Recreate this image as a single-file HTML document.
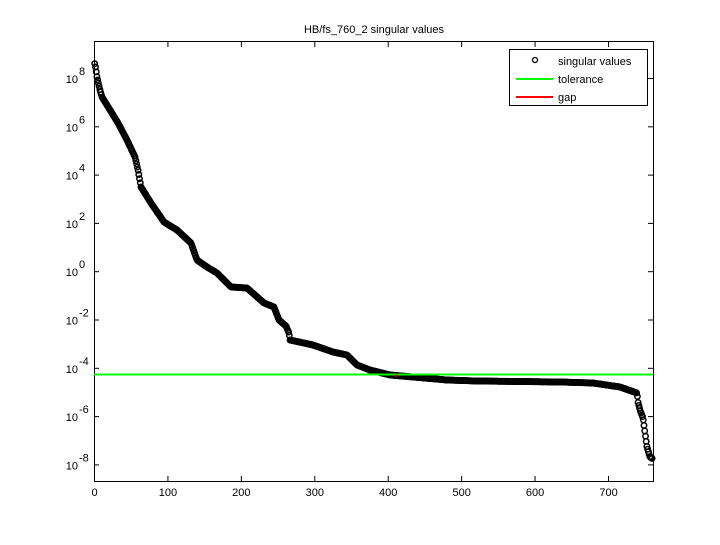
<!DOCTYPE html>
<html><head><meta charset="utf-8"><style>
body{margin:0;background:#fff}
svg text{font-family:"Liberation Sans",sans-serif;font-size:11px;fill:#000}
</style></head><body>
<svg id="s" width="720" height="540" xmlns="http://www.w3.org/2000/svg">
<rect width="720" height="540" fill="#fff"/>
<text x="374" y="33" text-anchor="middle">HB/fs_760_2 singular values</text>
<g id="ax" stroke="#000" stroke-width="1" fill="none">
<rect x="94.5" y="41.5" width="559" height="440"/>
</g>
<g id="pts" fill="none" stroke="#000" stroke-width="1.5"></g>
<line x1="94" y1="374.5" x2="653" y2="374.5" stroke="#00ff00" stroke-width="2"/>
<line x1="395" y1="375.5" x2="398" y2="375.5" stroke="#ff0000" stroke-width="2"/>
<g id="lbl"></g>
<rect x="509.5" y="49.5" width="138" height="56" fill="#fff" stroke="#000"/>
<circle cx="535" cy="60" r="2.5" fill="none" stroke="#000" stroke-width="1.3"/>
<line x1="516" y1="79" x2="553" y2="79" stroke="#00ff00" stroke-width="2"/>
<line x1="516" y1="97" x2="553" y2="97" stroke="#ff0000" stroke-width="2"/>
<text x="558" y="65">singular values</text>
<text x="558" y="83">tolerance</text>
<text x="558" y="101">gap</text>
</svg>
<script>
var ns="http://www.w3.org/2000/svg";
function el(t,a,p){var e=document.createElementNS(ns,t);for(var k in a)e.setAttribute(k,a[k]);p.appendChild(e);return e;}
var ax=document.getElementById('ax'),lbl=document.getElementById('lbl');
for(var i=0;i<=7;i++){var x=94.5+i*73.43;
 el('line',{x1:x,y1:481,x2:x,y2:476},ax);el('line',{x1:x,y1:42,x2:x,y2:47},ax);
 var t=el('text',{x:x,y:496,'text-anchor':'middle'},lbl);t.textContent=i*100;}
var ex=[8,6,4,2,0,-2,-4,-6,-8];
for(var j=0;j<ex.length;j++){var y=78+j*48.3;
 el('line',{x1:94,y1:y+.5,x2:99,y2:y+.5},ax);el('line',{x1:653,y1:y+.5,x2:648,y2:y+.5},ax);
 var t=el('text',{x:78,y:y+5,'text-anchor':'end'},lbl);t.textContent='10';
 var s=el('text',{x:79,y:y-3,'font-size':'8px'},lbl);s.textContent=ex[j];}
var P=[[94,63],[95,64],[97,77],[100,90],[102,97],[110,110],[118,123],[127,140],[135,157],[138,170],[141,187],[151,203],[164,222],[177,230],[191,243],[197,260],[207,267],[217,273],[231,287],[247,288],[264,303],[274,307],[279,320],[286,326],[289,333],[290,340],[313,345],[333,352],[347,355],[357,365],[370,370],[390,375],[413,377],[447,380],[477,381],[560,382],[593,383],[620,387],[637,393],[638,402],[640,410],[643,418],[645,433],[647,447],[650,457],[653,459]];
function f(x){for(var k=1;k<P.length;k++){if(x<=P[k][0]){var a=P[k-1],b=P[k];return a[1]+(b[1]-a[1])*(x-a[0])/(b[0]-a[0]);}}return P[P.length-1][1];}
var g=document.getElementById('pts');
for(var i=1;i<=760;i++){var x=94+i*0.7343;el('circle',{cx:x.toFixed(1),cy:f(x).toFixed(1),r:2.7},g);}
</script>
</body></html>
